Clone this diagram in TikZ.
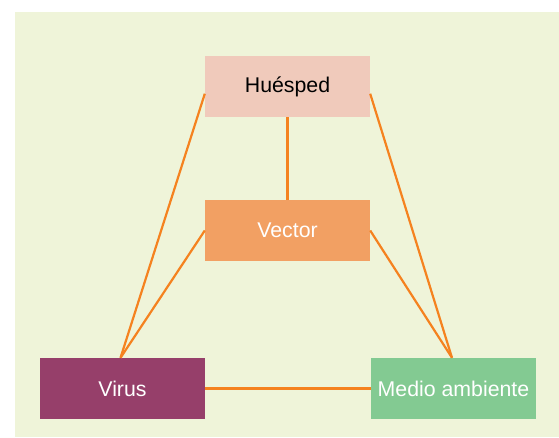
\documentclass[tikz,border=0pt]{standalone}
\usepackage{fontspec}
\setmainfont{Liberation Sans}
\definecolor{bgcol}{HTML}{EFF4D9}
\definecolor{huespedcol}{HTML}{F0CABB}
\definecolor{vectorcol}{HTML}{F2A063}
\definecolor{viruscol}{HTML}{963F6A}
\definecolor{mediocol}{HTML}{83CA92}
\definecolor{linkcol}{HTML}{F5821F}
\tikzset{
  box/.style={minimum width=165pt, minimum height=61pt, inner sep=0pt,
    font=\fontsize{21.3}{25}\selectfont},
  link/.style={draw=linkcol, line width=2.2pt}
}
\begin{document}
\begin{tikzpicture}[x=1pt,y=-1pt]
      \useasboundingbox (0,0) rectangle (559,437);
      \fill[bgcol] (15,12) rectangle (559,437);
      \draw
        (287.5,86.5) node[box,fill=huespedcol] (huesped){Huésped}
        (287.5,230.5) node[box,fill=vectorcol,text=white] (vector){Vector}
        (122.5,388.5) node[box,fill=viruscol,text=white] (virus){Virus}
        (453.5,388.5) node[box,fill=mediocol,text=white] (medio){Medio ambiente};
      \begin{scope}[link]
        \draw (huesped) to (vector);
        \draw (huesped.185) to ([xshift=-2pt]virus.north);
        \draw (huesped.355) to ([xshift=-1.5pt]medio.north);
        \draw (vector.west) to ([xshift=-2pt]virus.north);
        \draw (vector.east) to ([xshift=-1.5pt]medio.north);
        \draw (virus) to (medio);
      \end{scope}
    \end{tikzpicture}
\end{document}
